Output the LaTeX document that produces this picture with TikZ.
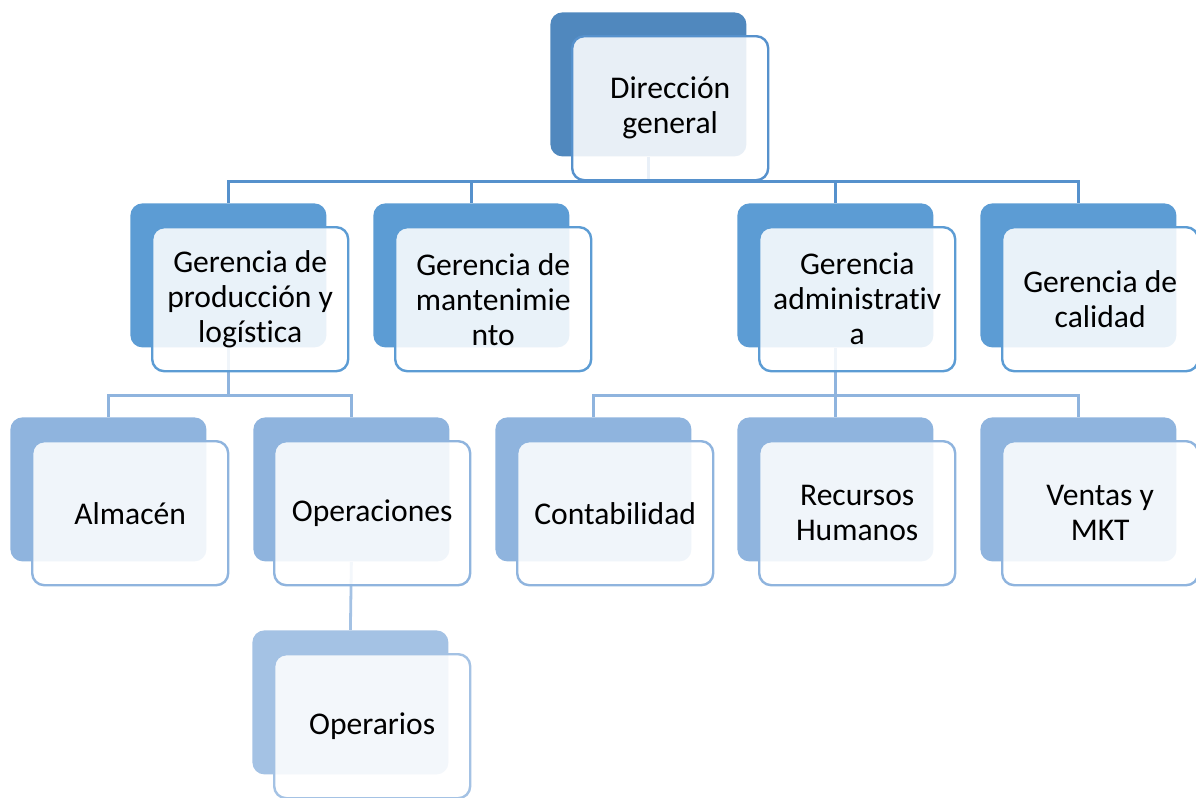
\documentclass[tikz,border=0pt]{standalone}
\usepackage{fontspec}
\setmainfont{Carlito}[Ligatures=NoCommon]
\usetikzlibrary{positioning,calc}
\definecolor{fillL1}{RGB}{80,136,190}
\definecolor{fillL2}{RGB}{92,156,212}
\definecolor{fillL3}{RGB}{143,180,222}
\definecolor{fillL4}{RGB}{164,194,228}
\definecolor{lineL1}{RGB}{86,145,204}
\tikzset{BACK/.style={rectangle,rounded corners=6pt,minimum width=98pt,minimum height=72pt,inner sep=0pt,anchor=north west}}
\tikzset{FRONT/.style={rectangle,rounded corners=6pt,minimum width=98pt,minimum height=72pt,inner sep=1pt,line width=1.2pt,fill=white,fill opacity=0.87,text opacity=1,align=flush center,anchor=north west,font=\fontsize{15.8}{17.5}\selectfont}}
\tikzset{LINK/.style={line width=1.4pt}}

\begin{document}
\begin{tikzpicture}[x=0.5pt,y=-0.5pt]
\useasboundingbox (0,0) rectangle (1196,798);

% back plates
\node[BACK, fill=fillL1] (n_dir_back) at (550,12) {};

\node[BACK, fill=fillL2] (n_prod_back) at (130,203) {};
\node[BACK, fill=fillL2] (n_mant_back) at (373,203) {};
\node[BACK, fill=fillL2] (n_adm_back) at (737,203) {};
\node[BACK, fill=fillL2] (n_cal_back) at (980,203) {};

\node[BACK, fill=fillL3] (n_alm_back) at (10,417) {};
\node[BACK, fill=fillL3] (n_oper_back) at (253,417) {};
\node[BACK, fill=fillL3] (n_cont_back) at (495,417) {};
\node[BACK, fill=fillL3] (n_rrhh_back) at (737,417) {};
\node[BACK, fill=fillL3] (n_ventas_back) at (980,417) {};

\node[BACK, fill=fillL4] (n_operarios_back) at (252,630) {};

% connectors
\draw[LINK, draw=lineL1] (n_dir_back.south) -- ++(0,25) -| (n_prod_back.north);
\draw[LINK, draw=lineL1] (n_dir_back.south) -- ++(0,25) -| (n_mant_back.north);
\draw[LINK, draw=lineL1] (n_dir_back.south) -- ++(0,25) -| (n_adm_back.north);
\draw[LINK, draw=lineL1] (n_dir_back.south) -- ++(0,25) -| (n_cal_back.north);

\draw[LINK, draw=fillL3] (n_prod_back.south) -- ++(0,48) -| (n_alm_back.north);
\draw[LINK, draw=fillL3] (n_prod_back.south) -- ++(0,48) -| (n_oper_back.north);

\draw[LINK, draw=fillL3] (n_adm_back.south) -- ++(0,48) -| (n_cont_back.north);
\draw[LINK, draw=fillL3] (n_adm_back.south) -- ++(0,48) -| (n_rrhh_back.north);
\draw[LINK, draw=fillL3] (n_adm_back.south) -- ++(0,48) -| (n_ventas_back.north);

\draw[LINK, draw=fillL4] (n_oper_back.south) -- (n_operarios_back.north);

% front cards
\node[FRONT, draw=lineL1] (n_dir) at ($(n_dir_back.north west)+(21,23)$) {Dirección\\general};

\node[FRONT, draw=fillL2] (n_prod) at ($(n_prod_back.north west)+(21,23)$) {Gerencia de\\producción y\\logística};
\node[FRONT, draw=fillL2] (n_mant) at ($(n_mant_back.north west)+(21,23)$) {Gerencia de\\mantenimie\\nto};
\node[FRONT, draw=fillL2] (n_adm) at ($(n_adm_back.north west)+(21,23)$) {Gerencia\\administrativ\\a};
\node[FRONT, draw=fillL2] (n_cal) at ($(n_cal_back.north west)+(21,23)$) {Gerencia de\\calidad};

\node[FRONT, draw=fillL3] (n_alm) at ($(n_alm_back.north west)+(21,23)$) {Almacén};
\node[FRONT, draw=fillL3] (n_oper) at ($(n_oper_back.north west)+(20,23)$) {Operaciones};
\node[FRONT, draw=fillL3] (n_cont) at ($(n_cont_back.north west)+(21,23)$) {Contabilidad};
\node[FRONT, draw=fillL3] (n_rrhh) at ($(n_rrhh_back.north west)+(21,23)$) {Recursos\\Humanos};
\node[FRONT, draw=fillL3] (n_ventas) at ($(n_ventas_back.north west)+(21,23)$) {Ventas y\\MKT};

\node[FRONT, draw=fillL4] (n_operarios) at ($(n_operarios_back.north west)+(21,23)$) {Operarios};

\end{tikzpicture}
\end{document}
